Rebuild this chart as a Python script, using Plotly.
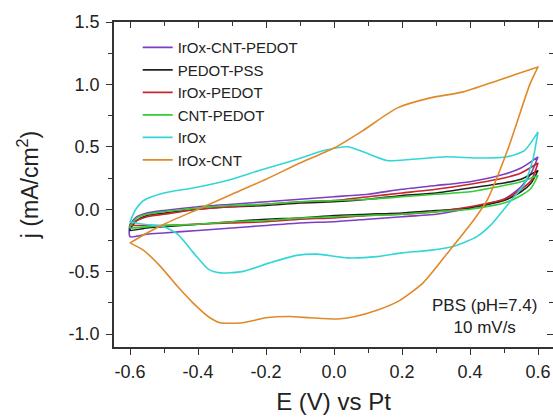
import plotly.graph_objects as go

# ---- data (E in V vs Pt, j in mA/cm^2) ----
E_fwd = [-0.6, -0.58, -0.55, -0.5, -0.4, -0.3, -0.2, -0.1, 0.0, 0.1, 0.2, 0.3, 0.4, 0.5, 0.55, 0.6]
E_rev = [0.6, 0.58, 0.55, 0.5, 0.4, 0.3, 0.2, 0.1, 0.0, -0.1, -0.2, -0.3, -0.4, -0.5, -0.55, -0.6]

j_icp_fwd = [-0.12, -0.06, -0.03, -0.01, 0.02, 0.04, 0.06, 0.08, 0.10, 0.12, 0.16, 0.19, 0.22, 0.28, 0.33, 0.42]
j_icp_rev = [0.42, 0.29, 0.18, 0.08, 0.01, -0.04, -0.06, -0.08, -0.10, -0.11, -0.13, -0.15, -0.17, -0.19, -0.20, -0.22]

j_pss_fwd = [-0.16, -0.09, -0.05, -0.03, 0.0, 0.02, 0.03, 0.05, 0.06, 0.08, 0.11, 0.13, 0.17, 0.21, 0.24, 0.31]
j_pss_rev = [0.31, 0.21, 0.14, 0.07, 0.01, -0.01, -0.03, -0.04, -0.05, -0.07, -0.08, -0.10, -0.12, -0.14, -0.15, -0.17]

j_ip_fwd = [-0.13, -0.09, -0.06, -0.04, 0.0, 0.02, 0.04, 0.06, 0.07, 0.10, 0.13, 0.16, 0.20, 0.25, 0.29, 0.37]
j_ip_rev = [0.37, 0.23, 0.16, 0.08, 0.02, -0.02, -0.04, -0.05, -0.07, -0.08, -0.10, -0.11, -0.12, -0.13, -0.13, -0.13]

j_cp_fwd = [-0.14, -0.07, -0.04, -0.02, 0.01, 0.03, 0.04, 0.06, 0.07, 0.08, 0.10, 0.12, 0.14, 0.19, 0.22, 0.27]
j_cp_rev = [0.27, 0.17, 0.11, 0.05, 0.0, -0.02, -0.04, -0.05, -0.06, -0.07, -0.09, -0.10, -0.12, -0.13, -0.14, -0.15]

E_irox_fwd = [-0.6, -0.585, -0.56, -0.5, -0.415, -0.315, -0.22, -0.12, -0.03, 0.04, 0.085, 0.155, 0.23, 0.33, 0.43, 0.51, 0.56, 0.6]
j_irox_fwd = [-0.10, -0.01, 0.07, 0.13, 0.17, 0.23, 0.31, 0.39, 0.47, 0.50, 0.46, 0.39, 0.40, 0.42, 0.41, 0.42, 0.47, 0.62]
E_irox_rev = [0.6, 0.585, 0.56, 0.53, 0.5, 0.46, 0.42, 0.36, 0.28, 0.2, 0.126, 0.04, -0.05, -0.11, -0.19, -0.27, -0.335, -0.37, -0.41, -0.46, -0.5, -0.56, -0.6]
j_irox_rev = [0.62, 0.40, 0.20, 0.10, 0.0, -0.13, -0.22, -0.29, -0.33, -0.35, -0.38, -0.39, -0.36, -0.37, -0.43, -0.50, -0.51, -0.48, -0.36, -0.20, -0.14, -0.12, -0.10]

E_ic_fwd = [-0.6, -0.55, -0.5, -0.4, -0.3, -0.2, -0.1, 0.0, 0.085, 0.185, 0.28, 0.38, 0.48, 0.6]
j_ic_fwd = [-0.27, -0.19, -0.12, 0.0, 0.12, 0.24, 0.37, 0.49, 0.63, 0.81, 0.89, 0.94, 1.03, 1.14]
E_ic_rev = [0.6, 0.576, 0.51, 0.45, 0.41, 0.34, 0.262, 0.194, 0.126, 0.062, 0.01, -0.07, -0.13, -0.2, -0.27, -0.335, -0.365, -0.415, -0.46, -0.51, -0.56, -0.6]
j_ic_rev = [1.14, 1.0, 0.47, 0.07, -0.09, -0.33, -0.59, -0.73, -0.81, -0.86, -0.88, -0.87, -0.86, -0.87, -0.91, -0.91, -0.87, -0.75, -0.62, -0.46, -0.33, -0.27]

names = ["IrOx-CNT-PEDOT", "PEDOT-PSS", "IrOx-PEDOT", "CNT-PEDOT", "IrOx", "IrOx-CNT"]
colors = ["#7b3fc4", "#222222", "#c8262c", "#33cc33", "#33d6d6", "#e0892a"]

x_ticks = [-0.6, -0.4, -0.2, 0.0, 0.2, 0.4, 0.6]
x_ticktext = ["-0.6", "-0.4", "-0.2", "0.0", "0.2", "0.4", "0.6"]
x_minor = [-0.5, -0.3, -0.1, 0.1, 0.3, 0.5]
y_ticks = [-1.0, -0.5, 0.0, 0.5, 1.0, 1.5]
y_ticktext = ["-1.0", "-0.5", "0.0", "0.5", "1.0", "1.5"]
y_minor = [-0.75, -0.25, 0.25, 0.75, 1.25]

series = [
    (E_fwd, j_icp_fwd, E_rev, j_icp_rev),
    (E_fwd, j_pss_fwd, E_rev, j_pss_rev),
    (E_fwd, j_ip_fwd, E_rev, j_ip_rev),
    (E_fwd, j_cp_fwd, E_rev, j_cp_rev),
    (E_irox_fwd, j_irox_fwd, E_irox_rev, j_irox_rev),
    (E_ic_fwd, j_ic_fwd, E_ic_rev, j_ic_rev),
]
# axis pairs: IrOx on (x, y2) and IrOx-CNT on (x2, y) so the twin frame axes get drawn
axis_pairs = [("x", "y"), ("x", "y"), ("x", "y"), ("x", "y"), ("x", "y2"), ("x2", "y")]

fig = go.Figure()
for (ef, jf, er, jr), name, col, (xa, ya) in zip(series, names, colors, axis_pairs):
    xs = list(ef) + list(er) + [ef[0]]
    ys = list(jf) + list(jr) + [jf[0]]
    fig.add_trace(go.Scatter(x=xs, y=ys, mode="lines", name=name, xaxis=xa, yaxis=ya,
                             line=dict(color=col, width=1.6, shape="spline", smoothing=0.6)))

FONT = "Liberation Sans, Arial, sans-serif"
xr = [-0.6471, 0.6441]
yr = [-1.104, 1.5]
AX = "#333"
common = dict(showgrid=False, zeroline=False, showline=True, linecolor=AX, linewidth=1.5,
              tickwidth=1.3, tickcolor=AX, automargin=False)

fig.update_layout(
    width=553, height=420,
    margin=dict(l=114, r=0, t=22, b=73),
    paper_bgcolor="white", plot_bgcolor="white",
    font=dict(family=FONT, color="#222"),
    showlegend=True,
    legend=dict(x=0.054, y=0.972, xanchor="left", yanchor="top",
                bgcolor="rgba(0,0,0,0)", font=dict(size=15, family=FONT, color="#222"),
                tracegroupgap=0),
    xaxis=dict(range=xr, tickvals=x_ticks, ticktext=x_ticktext, ticks="outside", ticklen=6,
               tickfont=dict(size=18, color="#222"), ticklabelstandoff=2,
               minor=dict(tickvals=x_minor, ticks="outside", ticklen=4, tickcolor=AX, showgrid=False),
               title=dict(text="E (V) vs Pt", font=dict(size=24, color="#222"), standoff=12), **common),
    yaxis=dict(range=yr, tickvals=y_ticks, ticktext=y_ticktext, ticks="outside", ticklen=6,
               tickfont=dict(size=18, color="#222"), ticklabelstandoff=3,
               minor=dict(tickvals=y_minor, ticks="outside", ticklen=4, tickcolor=AX, showgrid=False),
               title=dict(text="j (mA/cm<sup>2</sup>)", font=dict(size=23, color="#222"), standoff=24), **common),
    xaxis2=dict(range=xr, overlaying="x", side="top", anchor="y", tickvals=x_ticks, ticks="inside",
                ticklen=6, showticklabels=False,
                minor=dict(tickvals=x_minor, ticks="inside", ticklen=4, tickcolor=AX, showgrid=False), **common),
    yaxis2=dict(range=yr, overlaying="y", side="right", anchor="x", tickvals=y_ticks, ticks="inside",
                ticklen=6, showticklabels=False,
                minor=dict(tickvals=y_minor, ticks="inside", ticklen=4, tickcolor=AX, showgrid=False), **common),
)

fig.add_annotation(x=0.444, y=-0.86, xref="x", yref="y", text="PBS (pH=7.4)<br>10 mV/s",
                   showarrow=False, font=dict(size=17, family=FONT, color="#222"), align="center")

fig.write_html("out.html", post_script="document.body.style.margin='0';",
               config={"displayModeBar": False})
